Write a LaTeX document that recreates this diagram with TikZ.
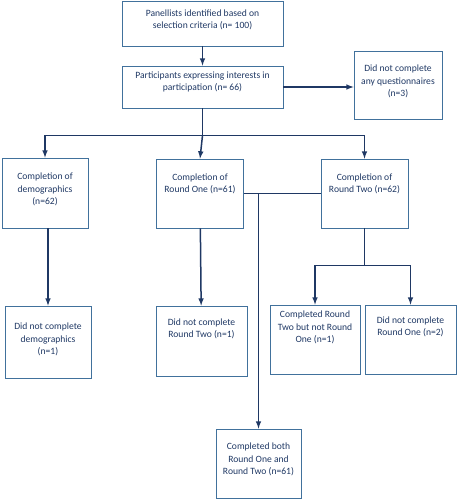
\documentclass[tikz,border=0pt]{standalone}
\usepackage{fontspec}
\setmainfont{Carlito}
\usetikzlibrary{shapes,arrows,positioning}
\definecolor{navy}{HTML}{1F3864}
\definecolor{edge}{HTML}{41719C}
\tikzset{
  box/.style={draw=edge, line width=0.8pt, rectangle},
  txt/.style={text=navy, align=center, inner sep=0pt, font=\fontsize{9.6}{12.3}\selectfont},
  flow/.style={draw=navy, line width=1.5pt, -latex},
  link/.style={draw=navy, line width=1.5pt}
}

\begin{document}
\begin{tikzpicture}[x=1pt,y=-1pt]
        \useasboundingbox (0,0) rectangle (457,500);
        % boxes
        \node[box, minimum width=161, minimum height=45] (panel) at (202.5,23.5) {};
        \node[box, minimum width=161, minimum height=42] (part) at (202.5,87) {};
        \node[box, minimum width=88, minimum height=68] (none) at (398,85) {};
        \node[box, minimum width=86, minimum height=70] (dem) at (45,193) {};
        \node[box, minimum width=87, minimum height=69] (one) at (200,193.5) {};
        \node[box, minimum width=87, minimum height=69] (two) at (364.5,193.5) {};
        \node[box, minimum width=86, minimum height=72] (ndem) at (48,342) {};
        \node[box, minimum width=91, minimum height=70] (ntwo) at (201.5,341) {};
        \node[box, minimum width=90, minimum height=69] (ctwo) at (315,339.5) {};
        \node[box, minimum width=91, minimum height=69] (nofirst) at (410.5,339.5) {};
        \node[box, minimum width=85, minimum height=69] (both) at (258.5,463.5) {};
        % texts
        \node[txt] (panel-t) at (202.5,20) {Panellists identified based on\\selection criteria (n= 100)};
        \node[txt] (part-t) at (202.5,82) {Participants expressing interests in\\participation (n= 66)};
        \node[txt] (none-t) at (398,81.5) {Did not complete\\any questionnaires\\(n=3)};
        \node[txt] (dem-t) at (45,189.5) {Completion of\\demographics\\(n=62)};
        \node[txt] (one-t) at (200,183.5) {Completion of\\Round One (n=61)};
        \node[txt] (two-t) at (364.5,183.5) {Completion of\\Round Two (n=62)};
        \node[txt] (ndem-t) at (48,339.5) {Did not complete\\demographics\\(n=1)};
        \node[txt] (ntwo-t) at (201.5,328.5) {Did not complete\\Round Two (n=1)};
        \node[txt] (ctwo-t) at (315,327.5) {Completed Round\\Two but not Round\\One (n=1)};
        \node[txt] (nofirst-t) at (410.5,327) {Did not complete\\Round One (n=2)};
        \node[txt] (both-t) at (258.5,459.5) {Completed both\\Round One and\\Round Two (n=61)};
        % connectors
        \draw[flow] (panel) -- (part);
        \draw[flow] (part.east) -- (part.east -| none.west);
        \draw[link] (part.south) -- ++(0,27) coordinate (split);
        \draw[flow] (split) -| (dem.north);
        \draw[flow] (split) -| (two.north);
        \draw[flow] (split) -- (one.north);
        \draw[flow] (ndem.north |- dem.south) -- (ndem.north);
        \draw[flow] (one) -- (ntwo);
        \draw[link] (one.east) -- (two.west);
        \draw[flow] (one.east -| both.north) -- (both.north);
        \draw[link] (two.south) -- ++(0,37) coordinate (fork);
        \draw[flow] (fork) -| (ctwo.north);
        \draw[flow] (fork) -| (nofirst.north);
      \end{tikzpicture}
\end{document}
